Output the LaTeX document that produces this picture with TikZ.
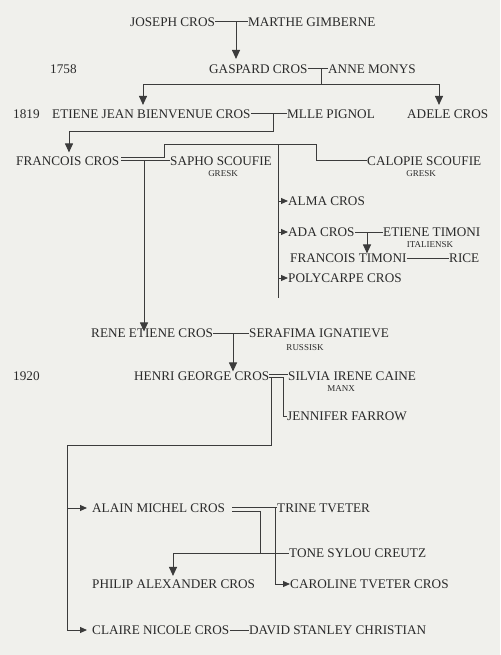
\documentclass[tikz,border=0pt]{standalone}
\usepackage{fontspec}
\setmainfont{Liberation Serif}
\usetikzlibrary{arrows.meta,calc}
\definecolor{bgc}{RGB}{240,240,236}
\definecolor{ink}{RGB}{42,42,42}
\definecolor{wirec}{RGB}{60,60,60}
\begin{document}
\begin{tikzpicture}[x=1pt,y=-1pt,
  nm/.style={font=\fontsize{13.2}{15}\selectfont,anchor=west,inner sep=0pt,text height=8.7pt,text depth=0pt,text=ink},
  sm/.style={font=\fontsize{9}{10}\selectfont,inner sep=0pt,text height=6pt,text depth=0pt,text=ink},
  wire/.style={draw=wirec,line width=1pt},
  arr/.style={wire,-{Triangle[length=9pt,width=8pt]}},
  sarr/.style={wire,-{Triangle[length=7pt,width=6pt]}}]
\path[fill=bgc] (0,0) rectangle (500,655);

% nodes
\node[nm] (joseph) at (130,22) {JOSEPH CROS};
\node[nm] (marthe) at (248,22) {MARTHE GIMBERNE};
\node[nm] (y1758) at (50,69) {1758};
\node[nm] (gaspard) at (209,69) {GASPARD CROS};
\node[nm] (anne) at (328,69) {ANNE MONYS};
\node[nm] (y1819) at (13,114) {1819};
\node[nm] (etiene) at (52,114) {ETIENE JEAN BIENVENUE CROS};
\node[nm] (pignol) at (287,114) {MLLE PIGNOL};
\node[nm] (adele) at (407,114) {ADELE CROS};
\node[nm] (francois) at (16,161) {FRANCOIS CROS};
\node[nm] (sapho) at (170,161) {SAPHO SCOUFIE};
\node[sm] (gresk1) at (223,173) {GRESK};
\node[nm] (calopie) at (367,161) {CALOPIE SCOUFIE};
\node[sm] (gresk2) at (421,173) {GRESK};
\node[nm] (alma) at (288,201) {ALMA CROS};
\node[nm] (ada) at (288,232) {ADA CROS};
\node[nm] (etimoni) at (383,232) {ETIENE TIMONI};
\node[sm] (italiensk) at (430,244) {ITALIENSK};
\node[nm] (ftimoni) at (290,258) {FRANCOIS TIMONI};
\node[nm] (rice) at (449,258) {RICE};
\node[nm] (polycarpe) at (288,278) {POLYCARPE CROS};
\node[nm] (rene) at (91,333) {RENE ETIENE CROS};
\node[nm] (serafima) at (249,333) {SERAFIMA IGNATIEVE};
\node[sm] (russisk) at (305,347) {RUSSISK};
\node[nm] (y1920) at (13,376) {1920};
\node[nm] (henri) at (134,376) {HENRI GEORGE CROS};
\node[nm] (silvia) at (288,376) {SILVIA IRENE CAINE};
\node[sm] (manx) at (341,388) {MANX};
\node[nm] (jennifer) at (287,416) {JENNIFER FARROW};
\node[nm] (alain) at (92,508) {ALAIN MICHEL CROS};
\node[nm] (trine) at (277,508) {TRINE TVETER};
\node[nm] (tone) at (289,553) {TONE SYLOU CREUTZ};
\node[nm] (philip) at (92,584) {PHILIP ALEXANDER CROS};
\node[nm] (caroline) at (290,584) {CAROLINE TVETER CROS};
\node[nm] (claire) at (92,630) {CLAIRE NICOLE CROS};
\node[nm] (david) at (249,630) {DAVID STANLEY CHRISTIAN};

% junction coordinates
\coordinate (jm) at (236,22);
\coordinate (ga) at (321,69);
\coordinate (gb) at (321,85);
\coordinate (ed) at (143,85);
\coordinate (ad) at (439,85);
\coordinate (ep) at (273,114);
\coordinate (epb) at (273,132);
\coordinate (fd) at (69,132);
\coordinate (fu1) at (164,157.5);
\coordinate (fu2) at (164,145);
\coordinate (fu3) at (316,145);
\coordinate (fu4) at (316,161);
\coordinate (rd) at (144,161);
\coordinate (ct) at (278,145);
\coordinate (cb) at (278,298);
\coordinate (at) at (367,232);
\coordinate (rs) at (233,333);
\coordinate (hl1) at (283,377.5);
\coordinate (hl2) at (283,416);
\coordinate (hv1) at (271,377.5);
\coordinate (hv2) at (271,445);
\coordinate (hv3) at (67,445);
\coordinate (hv4) at (67,630);
\coordinate (al1) at (260,511);
\coordinate (al2) at (260,553);
\coordinate (pd) at (173,553);
\coordinate (cv) at (275,507.5);
\coordinate (cv2) at (275,584);

% Joseph + Marthe
\draw[wire] (joseph.east) -- (marthe.west);
\draw[arr] (jm) -- ($(jm |- gaspard.north)+(0,-5.5)$);
% Gaspard + Anne
\draw[wire] (gaspard.east) -- (anne.west);
\draw[wire] (ga) -- (gb);
\draw[arr] (gb) -- (ed) -- ($(ed |- etiene.north)+(0,-4.5)$);
\draw[arr] (gb) -- (ad) -- ($(ad |- adele.north)+(0,-4.5)$);
% Etiene + Pignol
\draw[wire] (etiene.east) -- (pignol.west);
\draw[arr] (ep) -- (epb) -- (fd) -- ($(fd |- francois.north)+(0,-4)$);
% Francois marriages
\draw[wire] ($(francois.east)+(2,-3.5)$) -- (fu1) -- (fu2) -- (fu3) -- (fu4) -- (calopie.west);
\draw[wire] ($(francois.east)+(2,0)$) -- (sapho.west);
\draw[arr] (rd) -- ($(rd |- rene.north)+(0,3)$);
% Calopie children
\draw[wire] (ct) -- (cb);
\draw[sarr] (ct |- alma.west) -- (alma.west);
\draw[sarr] (ct |- ada.west) -- (ada.west);
\draw[sarr] (ct |- polycarpe.west) -- (polycarpe.west);
% Ada + Etiene Timoni
\draw[wire] (ada.east) -- (etimoni.west);
\draw[arr] (at) -- (at |- ftimoni.north);
\draw[wire] (ftimoni.east) -- (rice.west);
% Rene + Serafima
\draw[wire] (rene.east) -- (serafima.west);
\draw[arr] (rs) -- (rs |- henri.north);
% Henri marriages
\draw[wire] ($(henri.east)+(0,-1.5)$) -- ($(silvia.west)+(0,-1.5)$);
\draw[wire] ($(henri.east)+(0,1.5)$) -- (hl1) -- (hl2) -- (jennifer.west);
\draw[wire] (hv1) -- (hv2) -- (hv3) -- (hv4);
\draw[sarr] (hv3 |- alain.west) -- ($(alain.west)+(-5,0)$);
\draw[sarr] (hv4) -- ($(claire.west)+(-5,0)$);
% Alain marriages
\draw[wire] ($(alain.east)+(7,-0.5)$) -- (trine.west |- cv);
\draw[wire] ($(alain.east)+(7,3)$) -- (al1) -- (al2) -- (tone.west);
\draw[arr] (al2) -- (pd) -- ($(pd |- philip.north)+(0,-3.5)$);
\draw[sarr] (cv) -- (cv2) -- (caroline.west);
% Claire + David
\draw[wire] (claire.east) -- (david.west);
\end{tikzpicture}
\end{document}
